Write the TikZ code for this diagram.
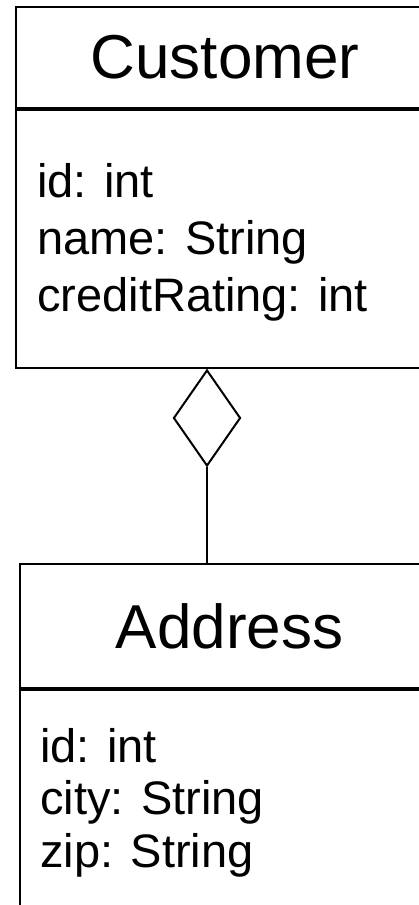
\documentclass[tikz,border=0pt]{standalone}
\usepackage{fontspec}
\setmainfont{Liberation Sans}
\usetikzlibrary{shapes.geometric, positioning}

\begin{document}
\begin{tikzpicture}[
  x=1pt, y=-1pt,
  HD/.style  ={draw, line width=2pt, inner sep=0pt, anchor=north west,
               font=\fontsize{62}{74}\selectfont},
  BD/.style  ={draw, line width=2pt, inner sep=0pt},
  AT/.style  ={inner sep=0pt, text height=36pt, text depth=13pt,
               font=\fontsize{47}{56}\selectfont},
  AGG/.style ={diamond, draw, line width=2pt, inner sep=0pt, fill=white,
               minimum width=67pt, minimum height=96pt},
  LN/.style  ={line width=2pt}
]
  \useasboundingbox (0,0) rectangle (419,905);

  % Customer class
  \node[HD, minimum width=418pt, minimum height=101pt] (custhead) at (15,6) {Customer};
  \node[BD, below=0pt of custhead, minimum width=418pt, minimum height=258pt] (custbody) {};
  \node[AT, anchor=base west] (c1) at ([xshift=22pt, yshift=-88pt]custbody.north west) {id: int};
  \node[AT, below=8pt of c1.south west, anchor=north west] (c2) {name: String};
  \node[AT, below=8pt of c2.south west, anchor=north west] (c3) {creditRating: int};

  % Address class
  \node[HD, minimum width=419pt, minimum height=124pt] (addrhead) at (19,563) {Address};
  \node[BD, below=0pt of addrhead, minimum width=419pt, minimum height=300pt] (addrbody) {};
  \node[AT, anchor=base west] (a1) at ([xshift=21pt, yshift=-73pt]addrbody.north west) {id: int};
  \node[AT, below=3.5pt of a1.south west, anchor=north west] (a2) {city: String};
  \node[AT, below=3.5pt of a2.south west, anchor=north west] (a3) {zip: String};

  % aggregation
  \node[AGG, anchor=north] (agg) at ([xshift=-18pt]custbody.south) {};
  \draw[LN] (agg.south) -- (agg.south |- addrhead.north);
\end{tikzpicture}
\end{document}
